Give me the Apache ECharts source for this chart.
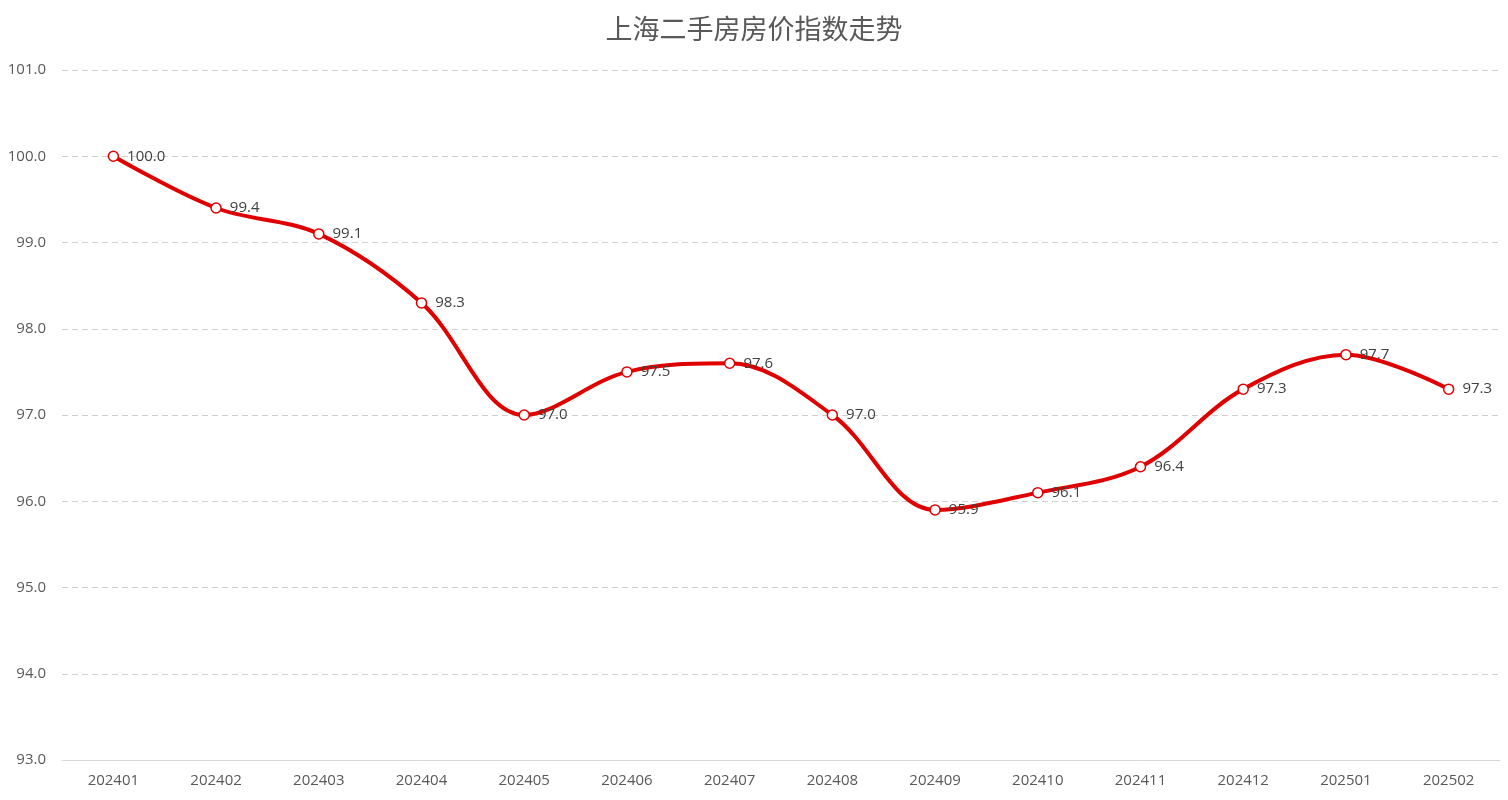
<!DOCTYPE html>
<html><head><meta charset="utf-8">
<script src="https://cdn.jsdelivr.net/npm/echarts@6/dist/echarts.min.js"></script>
<style>html,body{margin:0;padding:0;background:#fff}#c{width:1508px;height:800px}</style>
</head><body><div id="c"></div>
<script>
const titleText = '上海二手房房价指数走势';
const categories = ['202401','202402','202403','202404','202405','202406','202407','202408','202409','202410','202411','202412','202501','202502'];
const indexValues = [100.0, 99.4, 99.1, 98.3, 97.0, 97.5, 97.6, 97.0, 95.9, 96.1, 96.4, 97.3, 97.7, 97.3];
const yMin = 93, yMax = 101, yStep = 1;

const chart = echarts.init(document.getElementById('c'));
chart.setOption({
  backgroundColor: '#fff',
  title: { text: titleText, left: 'center', top: 10,
    textStyle: { fontFamily: 'Noto Sans CJK SC', fontSize: 27, fontWeight: 'normal', color: '#595959' } },
  grid: { left: 62, right: 8, top: 70, bottom: 40 },
  xAxis: { type: 'category', data: categories, boundaryGap: true,
    axisLine: { lineStyle: { color: '#d9d9d9', width: 1 } },
    axisTick: { show: false },
    axisLabel: { color: '#595959', fontSize: 15, fontFamily: 'Open Sans', margin: 13 } },
  yAxis: { type: 'value', min: yMin, max: yMax, interval: yStep,
    axisLine: { show: false }, axisTick: { show: false },
    axisLabel: { color: '#595959', fontSize: 15, fontFamily: 'Open Sans', margin: 16,
      formatter: v => v.toFixed(1) },
    splitLine: { lineStyle: { color: '#d0d0d0', type: [6, 4], width: 1 } } },
  series: [{
    type: 'line', data: indexValues, smooth: 0.35,
    lineStyle: { color: '#e00000', width: 4 },
    itemStyle: { color: '#fff', borderColor: '#e00000', borderWidth: 1.5 },
    symbol: 'circle', symbolSize: 10,
    label: { show: true, position: 'right', distance: 8, color: '#404040', fontSize: 15,
      fontFamily: 'Open Sans', formatter: p => p.value.toFixed(1) }
  }]
});
</script></body></html>
